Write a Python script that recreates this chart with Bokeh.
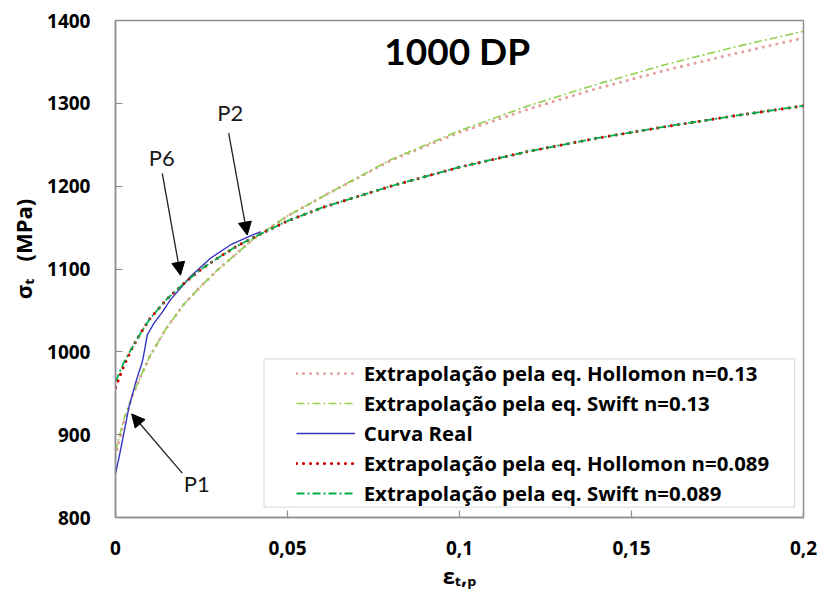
from bokeh.plotting import figure
from bokeh.models import (Range1d, Label, Arrow, NormalHead, Legend, LegendItem,
                          BoxAnnotation, FixedTicker)
from bokeh.embed import file_html
from bokeh.resources import INLINE

# ---- data: true plastic strain vs true stress (MPa) ----
eps = [0, 0.0025, 0.005, 0.0075, 0.01, 0.015, 0.02, 0.025, 0.03, 0.035, 0.04,
       0.05, 0.06, 0.08, 0.1, 0.12, 0.14, 0.16, 0.18, 0.2]

hollomon_013 = [874, 917, 948, 972, 995, 1030, 1058, 1080, 1100, 1118, 1136,
                1164, 1187, 1231, 1265, 1293, 1318, 1340, 1360, 1379]
swift_013 = [880, 920, 948, 972, 995, 1030, 1058, 1080, 1100, 1118, 1136,
             1164, 1187, 1232, 1267, 1297, 1323, 1347, 1368, 1387]
hollomon_0089 = [957, 984, 1006, 1024, 1040, 1064, 1083, 1100, 1114, 1127, 1138,
                 1158, 1174, 1200, 1223, 1242, 1258, 1272, 1285, 1297]
swift_0089 = [964, 988, 1006, 1024, 1040, 1064, 1083, 1100, 1114, 1127, 1138,
              1158, 1174, 1200, 1223, 1242, 1258, 1272, 1285, 1297]

eps_real = [0, 0.001, 0.0024, 0.0039, 0.0058, 0.0078, 0.0085, 0.0092, 0.0111,
            0.0136, 0.016, 0.0218, 0.0276, 0.0334, 0.0392, 0.0422]
sig_real = [853, 872, 901, 933, 962, 988, 1003, 1020, 1034, 1048, 1063, 1091,
            1113, 1129, 1140, 1145]

x_ticks = [0, 0.05, 0.1, 0.15, 0.2]
x_tick_labels = ["0", "0,05", "0,1", "0,15", "0,2"]
y_ticks = [800, 900, 1000, 1100, 1200, 1300, 1400]

x_title = "εₜ,ₚ"
# leading no-break spaces lift the stress title a little above centre
y_title = "\u00a0" * 7 + "σₜ\u00a0\u00a0 (MPa)"

legend_labels = [
    "Extrapolação pela eq. Hollomon n=0.13",
    "Extrapolação pela eq. Swift n=0.13",
    "Curva Real",
    "Extrapolação pela eq. Hollomon n=0.089",
    "Extrapolação pela eq. Swift n=0.089",
]

# marked points: (label, arrow tail, arrow tip) in data units
points = [
    ("P1", (0.0194, 853.5), (0.0047, 925.0)),
    ("P6", (0.0136, 1215.5), (0.0189, 1092.5)),
    ("P2", (0.0329, 1264.0), (0.0383, 1141.0)),
]

# ---- layout ----
W, H = 821, 598
FL, FR, FT, FB = 115, 803, 20, 517
X0, X1, Y0, Y1 = 0.0, 0.2, 800.0, 1400.0
BASE_SHIFT = 0.46   # Label's alphabetic baseline lands this many ems low


def xd(px):
    return X0 + (px - FL) * (X1 - X0) / (FR - FL)


def yd(py):
    return Y0 + (FB - py) * (Y1 - Y0) / (FB - FT)


def text_at(left, baseline, text, size, font="Lato", style="normal",
            color="black", align="left"):
    """Place a text inside the frame by its canvas-pixel left/baseline."""
    return Label(x=xd(left), y=yd(baseline - BASE_SHIFT * size), text=text,
                 text_font=font, text_font_style=style,
                 text_font_size=f"{size}px", text_align=align,
                 text_baseline="alphabetic", text_color=color)


p = figure(width=W, height=H, x_range=Range1d(X0, X1), y_range=Range1d(Y0, Y1),
           output_backend="svg", toolbar_location=None,
           min_border_left=FL, min_border_right=W - FR,
           min_border_top=FT, min_border_bottom=H - FB)

p.background_fill_color = "white"
p.border_fill_color = "white"
p.outline_line_color = "#8f8f8f"
p.outline_line_width = 1.5
p.xgrid.visible = False
p.ygrid.visible = False

for ax in (p.xaxis[0], p.yaxis[0]):
    ax.axis_line_color = "#8f8f8f"
    ax.axis_line_width = 1.5
    ax.major_tick_line_color = "#8f8f8f"
    ax.major_tick_line_width = 1.2
    ax.major_tick_in = 7
    ax.major_tick_out = 0
    ax.minor_tick_line_color = None
    ax.major_label_text_font = "Open Sans"
    ax.major_label_text_font_style = "bold"
    ax.major_label_text_font_size = "19px"
    ax.major_label_text_color = "black"
    ax.axis_label_text_font = "Open Sans"
    ax.axis_label_text_font_style = "bold"
    ax.axis_label_text_font_size = "22px"
    ax.axis_label_text_color = "black"

p.xaxis.ticker = FixedTicker(ticks=x_ticks)
p.xaxis.major_label_overrides = dict(zip(x_ticks, x_tick_labels))
p.xaxis.major_label_standoff = 23
p.xaxis.axis_label = x_title
p.xaxis.axis_label_standoff = 2

p.yaxis.ticker = FixedTicker(ticks=y_ticks)
p.yaxis.major_label_standoff = 25
p.yaxis.axis_label = y_title
p.yaxis.axis_label_standoff = 6

# ---- curves ----
r1 = p.line(eps, hollomon_013, line_color="#E6A1A1", line_width=3.2,
            line_dash="0 7", line_cap="round")
r2 = p.line(eps, swift_013, line_color="#92D050", line_width=1.6,
            line_dash="8 3 2 3")
r3 = p.line(eps_real, sig_real, line_color="#3535C4", line_width=1.4)
r4 = p.line(eps, hollomon_0089, line_color="#D00000", line_width=3.2,
            line_dash="0 7", line_cap="round")
r5 = p.line(eps, swift_0089, line_color="#00B050", line_width=1.8,
            line_dash="8 3 2 3")

# ---- legend with its frame ----
box = BoxAnnotation(left=xd(263.6), right=xd(794), top=yd(358.3), bottom=yd(506.7),
                    fill_color="white", fill_alpha=1.0,
                    line_color="#8f8f8f", line_width=1.2)
p.add_layout(box)

legend = Legend(
    items=[LegendItem(label=lab, renderers=[r])
           for lab, r in zip(legend_labels, [r1, r2, r3, r4, r5])],
    location=(180.7, 9.3), padding=0, spacing=0, margin=0,
    label_height=30, glyph_height=30, glyph_width=59, label_standoff=9,
    border_line_alpha=0, background_fill_alpha=0,
    label_text_font="Open Sans", label_text_font_style="bold",
    label_text_font_size="20.4px", label_text_color="black",
)
p.add_layout(legend)

# ---- title ----
p.add_layout(text_at(456.7, 66.7, "1000 DP", 37, style="bold", align="center"))

# ---- marked points ----
for name, (tx, ty), (hx, hy) in points:
    p.add_layout(Arrow(end=NormalHead(size=13, fill_color="black", line_color="black"),
                       x_start=tx, y_start=ty, x_end=hx, y_end=hy,
                       line_color="#222222", line_width=1.3))

for name, px, py in [("P1", 183.3, 493.3), ("P6", 148.3, 166.7), ("P2", 216.7, 121.7)]:
    p.add_layout(text_at(px, py, name, 22, color="#1a1a1a"))

open("out.html", "w").write(file_html(p, INLINE))
